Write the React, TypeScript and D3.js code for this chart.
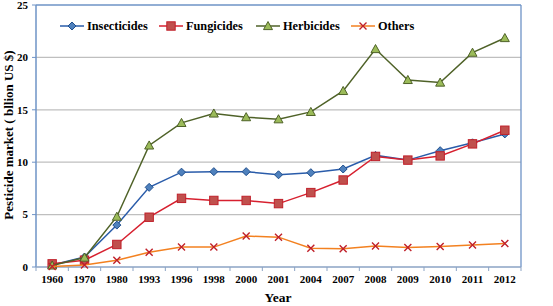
import React from "react";
import * as d3 from "d3";

const years = ["1960","1970","1980","1993","1996","1998","2000","2001","2004","2007","2008","2009","2010","2011","2012"];
const insecticides = [0.2,0.95,4.0,7.6,9.05,9.1,9.1,8.8,9.0,9.35,10.65,10.2,11.1,11.85,12.7];
const fungicides = [0.3,0.65,2.15,4.75,6.55,6.35,6.35,6.05,7.1,8.3,10.55,10.2,10.6,11.75,13.05];
const herbicides = [0.15,0.9,4.8,11.6,13.75,14.65,14.3,14.1,14.8,16.8,20.8,17.85,17.6,20.45,21.85];
const others = [0.05,0.2,0.65,1.4,1.9,1.9,2.95,2.85,1.8,1.75,2.0,1.85,1.95,2.1,2.25];
const yTicks = [0,5,10,15,20,25];

const W = 553, H = 306;
const M = { left: 36, right: 521, top: 5, bottom: 267 };
const FONT = "Liberation Serif, Times New Roman, DejaVu Serif, serif";

type Ser = { name: string; values: number[]; line: string; fill: string; stroke: string; marker: string };
const series: Ser[] = [
  { name: "Insecticides", values: insecticides, line: "#2A5CAA", fill: "#4F81BD", stroke: "#1F4E8C", marker: "diamond" },
  { name: "Fungicides", values: fungicides, line: "#D7202F", fill: "#C0504D", stroke: "#C0202A", marker: "square" },
  { name: "Herbicides", values: herbicides, line: "#4F6228", fill: "#9BBB59", stroke: "#4F6228", marker: "triangle" },
  { name: "Others", values: others, line: "#F38120", fill: "none", stroke: "#C0202A", marker: "x" },
];

function Marker({ kind, x, y, fill, stroke }: { kind: string; x: number; y: number; fill: string; stroke: string }) {
  if (kind === "diamond") {
    const s = 4;
    return <path d={`M${x},${y - s}L${x + s},${y}L${x},${y + s}L${x - s},${y}Z`} fill={fill} stroke={stroke} strokeWidth={1} />;
  }
  if (kind === "square") {
    const s = 4.2;
    return <rect x={x - s} y={y - s} width={2 * s} height={2 * s} fill={fill} stroke={stroke} strokeWidth={1} />;
  }
  if (kind === "triangle") {
    const s = 4.5;
    return <path d={`M${x},${y - s}L${x + s},${y + s * 0.8}L${x - s},${y + s * 0.8}Z`} fill={fill} stroke={stroke} strokeWidth={1} />;
  }
  const s = 3.5;
  return <path d={`M${x - s},${y - s}L${x + s},${y + s}M${x + s},${y - s}L${x - s},${y + s}`} stroke={stroke} strokeWidth={1.4} fill="none" />;
}

export default function App() {
  const x = d3.scaleBand<string>().domain(years).range([M.left, M.right]);
  const y = d3.scaleLinear().domain([0, 25]).range([M.bottom, M.top]);
  const cx = (yr: string) => (x(yr) as number) + x.bandwidth() / 2;
  const line = d3.line<number>().x((_, i) => cx(years[i])).y((v) => y(v));
  const bounds = years.map((yr) => x(yr) as number).concat([M.right]);

  const legendX = [60, 159, 256, 351];

  return (
    <svg width={W} height={H} style={{ position: "absolute", left: 0, top: 0, fontFamily: FONT }}>
      <rect x={0} y={0} width={W} height={H} fill="#fff" />
      {yTicks.slice(1, 5).map((t) => (
        <line key={t} x1={M.left} x2={M.right} y1={y(t)} y2={y(t)} stroke="#BFBFBF" strokeWidth={1.3} />
      ))}
      <line x1={M.left} x2={M.right} y1={M.top} y2={M.top} stroke="#6E93C6" strokeWidth={1.3} />
      <line x1={M.right} x2={M.right} y1={M.top} y2={M.bottom} stroke="#6E93C6" strokeWidth={1.3} />
      <line x1={M.left} x2={M.left} y1={M.top} y2={M.bottom} stroke="#6E93C6" strokeWidth={1.5} />
      <line x1={M.left} x2={M.right} y1={M.bottom} y2={M.bottom} stroke="#8BA3C4" strokeWidth={1.5} />
      {yTicks.map((t) => (
        <g key={t}>
          <line x1={M.left - 4} x2={M.left} y1={y(t)} y2={y(t)} stroke="#6E93C6" strokeWidth={1} />
          <text x={28} y={y(t)} dy="0.35em" textAnchor="end" fontSize={11} fontWeight="bold" fill="#000">{t}</text>
        </g>
      ))}
      {bounds.map((b, i) => (
        <line key={i} x1={b} x2={b} y1={M.bottom} y2={M.bottom + 4} stroke="#8BA3C4" strokeWidth={1} />
      ))}
      {years.map((yr) => (
        <text key={yr} x={cx(yr)} y={283} textAnchor="middle" fontSize={11} fontWeight="bold" fill="#000">{yr}</text>
      ))}
      <text x={278} y={302} textAnchor="middle" fontSize={13.5} fontWeight="bold" fill="#000">Year</text>
      <text transform={`translate(13,${(M.top + M.bottom) / 2 - 1}) rotate(-90)`} textAnchor="middle" fontSize={13} fontWeight="bold" fill="#000">Pesticide market ( bllion US $)</text>

      {series.map((s) => (
        <g key={s.name}>
          <path d={line(s.values) || ""} fill="none" stroke={s.line} strokeWidth={1.5} />
          {s.values.map((v, i) => (
            <Marker key={i} kind={s.marker} x={cx(years[i])} y={y(v)} fill={s.fill} stroke={s.stroke} />
          ))}
        </g>
      ))}

      {series.map((s, i) => (
        <g key={s.name}>
          <line x1={legendX[i]} x2={legendX[i] + 24} y1={26} y2={26} stroke={s.line} strokeWidth={1.5} />
          <Marker kind={s.marker} x={legendX[i] + 12} y={26} fill={s.fill} stroke={s.stroke} />
          <text x={legendX[i] + 27} y={26} dy="0.35em" fontSize={12.3} fontWeight="bold" fill="#000">{s.name}</text>
        </g>
      ))}
    </svg>
  );
}
